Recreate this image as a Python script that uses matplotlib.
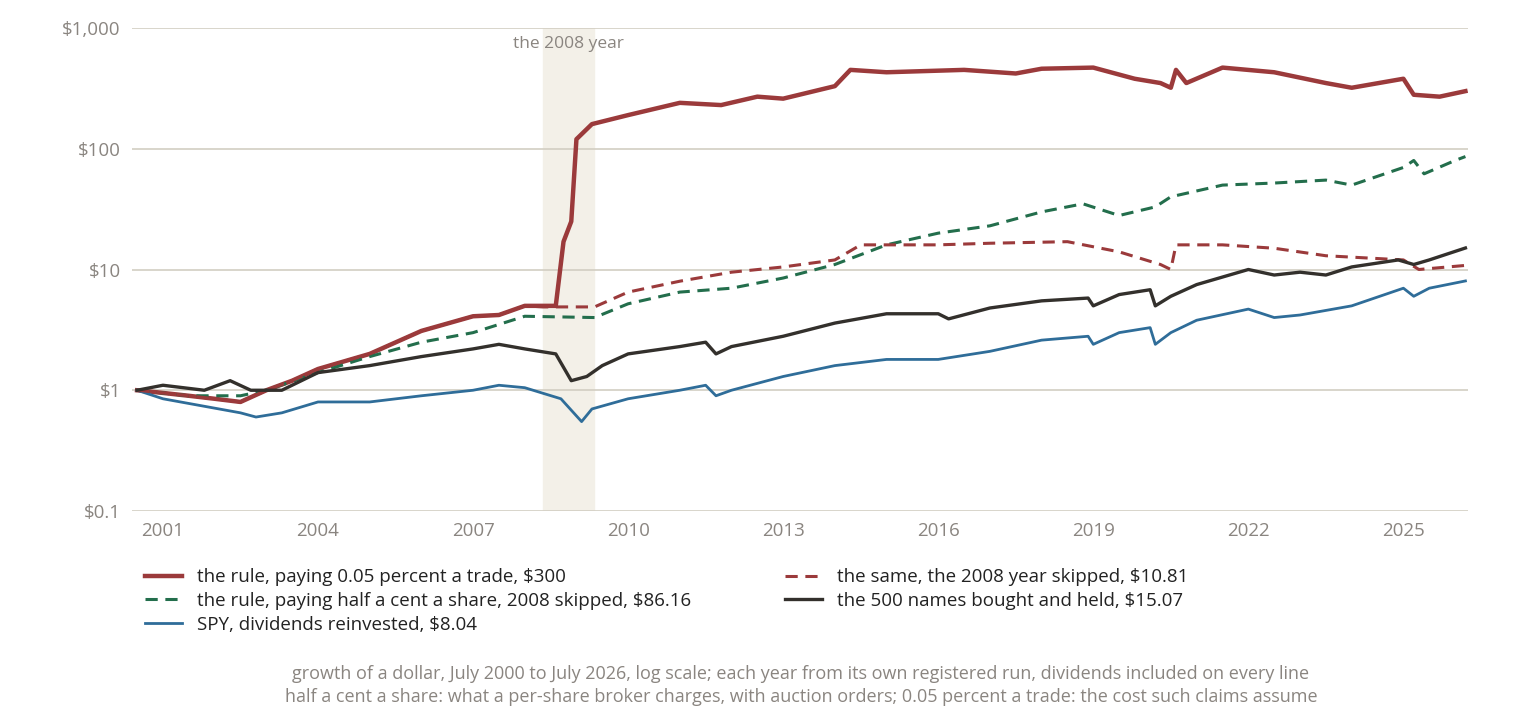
import matplotlib
matplotlib.use("Agg")
import matplotlib.pyplot as plt
from matplotlib.ticker import FixedLocator

plt.rcParams["font.family"] = ["Open Sans", "DejaVu Sans"]

# growth of a dollar (year as decimal)
rule_x = [2000.5, 2001.0, 2001.5, 2002.0, 2002.5, 2003.0, 2003.5, 2004.0, 2005.0, 2006.0, 2007.0, 2007.5,
          2008.0, 2008.6, 2008.75, 2008.9, 2009.0, 2009.3, 2010.0, 2011.0, 2011.8, 2012.5, 2013.0, 2014.0,
          2014.3, 2015.0, 2016.5, 2017.5, 2018.0, 2019.0, 2019.8, 2020.3, 2020.5, 2020.6, 2020.8, 2021.5,
          2022.5, 2023.5, 2024.0, 2025.0, 2025.2, 2025.7, 2026.2]
rule_y = [1.0, 0.95, 0.9, 0.85, 0.8, 1.0, 1.2, 1.5, 2.0, 3.1, 4.1, 4.2,
          5.0, 5.0, 17, 25, 120, 160, 190, 240, 230, 270, 260, 330,
          450, 430, 450, 420, 460, 470, 380, 350, 320, 450, 350, 470,
          430, 350, 320, 380, 280, 270, 300]

skip_x = [2000.5, 2001.0, 2001.5, 2002.0, 2002.5, 2003.0, 2003.5, 2004.0, 2005.0, 2006.0, 2007.0, 2007.5,
          2008.0, 2008.35, 2009.35, 2010.0, 2011.0, 2012.0, 2013.0, 2014.0, 2014.5, 2016.0, 2017.0,
          2018.5, 2019.5, 2020.3, 2020.5, 2020.6, 2021.5, 2022.5, 2023.5, 2025.0, 2025.3, 2026.2]
skip_y = [1.0, 0.95, 0.9, 0.85, 0.8, 1.0, 1.2, 1.5, 2.0, 3.1, 4.1, 4.2,
          5.0, 4.9, 4.9, 6.5, 8.0, 9.5, 10.5, 12, 16, 16, 16.5,
          17, 14, 11, 10, 16, 16, 15, 13, 12, 10, 10.81]

share_x = [2000.5, 2001.5, 2002.5, 2003.0, 2004.0, 2005.0, 2006.0, 2007.0, 2008.0, 2009.35, 2010.0,
           2011.0, 2012.0, 2013.0, 2014.0, 2015.0, 2016.0, 2017.0, 2018.0, 2018.8, 2019.5, 2020.2,
           2020.5, 2021.5, 2022.5, 2023.5, 2024.0, 2025.0, 2025.2, 2025.4, 2026.0, 2026.2]
share_y = [1.0, 0.9, 0.9, 1.0, 1.4, 1.9, 2.5, 3.0, 4.1, 4.0, 5.2,
           6.5, 7.0, 8.5, 11, 16, 20, 23, 30, 35, 28, 33,
           40, 50, 52, 55, 50, 70, 80, 62, 80, 86.16]

hold_x = [2000.5, 2001.0, 2001.8, 2002.3, 2002.7, 2003.3, 2004.0, 2005.0, 2006.0, 2007.0, 2007.5,
          2008.0, 2008.6, 2008.9, 2009.2, 2009.5, 2010.0, 2011.0, 2011.5, 2011.7, 2012.0, 2013.0,
          2014.0, 2015.0, 2016.0, 2016.2, 2017.0, 2018.0, 2018.9, 2019.0, 2019.5, 2020.1, 2020.2,
          2020.5, 2021.0, 2022.0, 2022.5, 2023.0, 2023.5, 2024.0, 2024.9, 2025.2, 2025.5, 2026.2]
hold_y = [1.0, 1.1, 1.0, 1.2, 1.0, 1.0, 1.4, 1.6, 1.9, 2.2, 2.4,
          2.2, 2.0, 1.2, 1.3, 1.6, 2.0, 2.3, 2.5, 2.0, 2.3, 2.8,
          3.6, 4.3, 4.3, 3.9, 4.8, 5.5, 5.8, 5.0, 6.2, 6.8, 5.0,
          6.0, 7.5, 10, 9, 9.5, 9.0, 10.5, 12, 11, 12, 15.07]

spy_x = [2000.5, 2001.0, 2002.5, 2002.8, 2003.3, 2004.0, 2005.0, 2006.0, 2007.0, 2007.5, 2008.0,
         2008.7, 2009.1, 2009.3, 2010.0, 2011.0, 2011.5, 2011.7, 2012.0, 2013.0, 2014.0, 2015.0,
         2016.0, 2017.0, 2018.0, 2018.9, 2019.0, 2019.5, 2020.1, 2020.2, 2020.5, 2021.0, 2022.0,
         2022.5, 2023.0, 2024.0, 2025.0, 2025.2, 2025.5, 2026.2]
spy_y = [1.0, 0.85, 0.65, 0.6, 0.65, 0.8, 0.8, 0.9, 1.0, 1.1, 1.05,
         0.85, 0.55, 0.7, 0.85, 1.0, 1.1, 0.9, 1.0, 1.3, 1.6, 1.8,
         1.8, 2.1, 2.6, 2.8, 2.4, 3.0, 3.3, 2.4, 3.0, 3.8, 4.7,
         4.0, 4.2, 5.0, 7.0, 6.0, 7.0, 8.04]

year_ticks = [2001, 2004, 2007, 2010, 2013, 2016, 2019, 2022, 2025]
dollar_ticks = [0.1, 1, 10, 100, 1000]
dollar_labels = ["$0.1", "$1", "$10", "$100", "$1,000"]

RED, GREEN, BLACK, BLUE = "#9b3a3b", "#236e4c", "#33302c", "#2f6d99"
GRAY = "#8a8580"

fig = plt.figure(figsize=(15.2, 7.18), dpi=100)
ax = fig.add_axes([0.0868, 0.2883, 0.879, 0.6727])

ax.axvspan(2008.35, 2009.34, color="#f3f0e8", zorder=0)
ax.text(2008.85, 740, "the 2008 year", ha="center", va="center", color=GRAY, fontsize=12.5)

ax.plot(rule_x, rule_y, color=RED, lw=3.2, label="the rule, paying 0.05 percent a trade, $300")
ax.plot(share_x, share_y, color=GREEN, lw=2.2, ls=(0, (4, 2.5)),
        label="the rule, paying half a cent a share, 2008 skipped, $86.16")
ax.plot(spy_x, spy_y, color=BLUE, lw=2.0, label="SPY, dividends reinvested, $8.04")
ax.plot(skip_x, skip_y, color=RED, lw=2.2, ls=(0, (4, 2.5)), label="the same, the 2008 year skipped, $10.81")
ax.plot(hold_x, hold_y, color=BLACK, lw=2.4, label="the 500 names bought and held, $15.07")

ax.set_yscale("log")
ax.set_ylim(0.1, 1000)
ax.set_xlim(2000.4, 2026.25)
ax.yaxis.set_major_locator(FixedLocator(dollar_ticks))
ax.yaxis.set_minor_locator(FixedLocator([]))
ax.set_yticklabels(dollar_labels)
ax.set_xticks(year_ticks)
ax.grid(axis="y", color="#d2cec2", lw=1.2)
ax.set_axisbelow(True)
for s in ax.spines.values():
    s.set_visible(False)
ax.tick_params(length=0, labelsize=13.5, colors=GRAY, pad=8)

fig.legend(loc="upper left", bbox_to_anchor=(0.084, 0.232), ncol=2, frameon=False, fontsize=13.5,
           handlelength=2.0, handletextpad=0.8, columnspacing=5, labelspacing=0.3, labelcolor="#222222")

fig.text(0.527, 0.055, "growth of a dollar, July 2000 to July 2026, log scale; each year from its own registered run, "
         "dividends included on every line", ha="center", color=GRAY, fontsize=13)
fig.text(0.527, 0.022, "half a cent a share: what a per-share broker charges, with auction orders; "
         "0.05 percent a trade: the cost such claims assume", ha="center", color=GRAY, fontsize=13)

fig.savefig("out.png", dpi=100)
